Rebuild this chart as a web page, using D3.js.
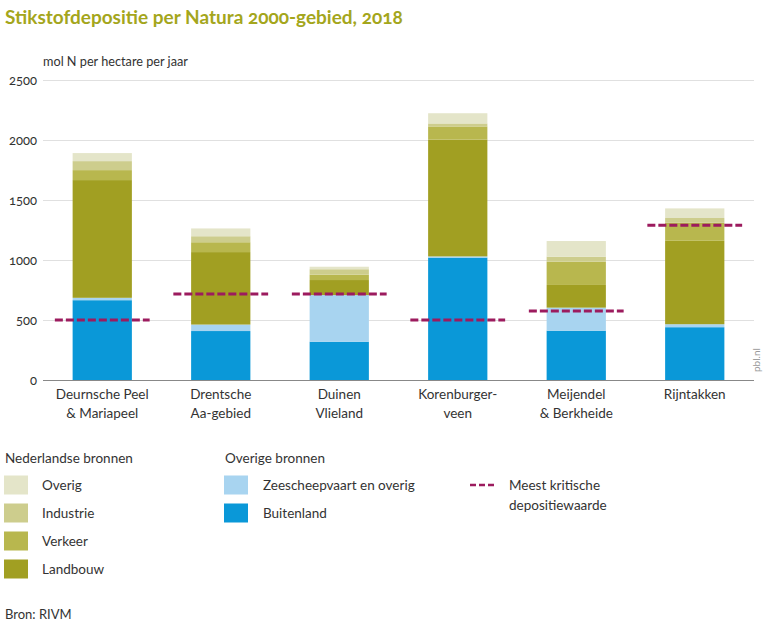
<!DOCTYPE html>
<html>
<head>
<meta charset="utf-8">
<script src="https://cdn.jsdelivr.net/npm/d3@7/dist/d3.min.js"></script>
<style>
  html, body { margin: 0; padding: 0; background: #fff; }
  svg text { font-family: Lato, "Open Sans", sans-serif; fill: #333; font-variant-numeric: oldstyle-nums; }
</style>
</head>
<body>
<svg id="chart" width="766" height="622"></svg>
<script>
// Natura 2000 areas (two-line labels)
const areas = [
  ["Deurnsche Peel", "& Mariapeel"],
  ["Drentsche", "Aa-gebied"],
  ["Duinen", "Vlieland"],
  ["Korenburger-", "veen"],
  ["Meijendel", "& Berkheide"],
  ["Rijntakken"]
];
const areaKeys = areas.map(a => a.join(" "));

// Deposition per source, mol N per hectare per year (stacked bottom to top)
const buitenland     = [665, 408, 319, 1020, 411, 440];
const zeescheepvaart = [ 20,  54, 389,   10, 192,  25];
const landbouw       = [981, 604, 125,  973, 189, 695];
const verkeer        = [ 83,  82,  45,  110, 194, 150];
const industrie      = [ 75,  50,  45,   25,  42,  40];
const overig         = [ 67,  65,  21,   85, 130,  80];

// Most critical deposition value per area
const kritisch = [500, 717, 717, 500, 575, 1290];

const yTicks = [0, 500, 1000, 1500, 2000, 2500];

const seriesKeys = ["buitenland", "zeescheepvaart", "landbouw", "verkeer", "industrie", "overig"];
const seriesData = { buitenland, zeescheepvaart, landbouw, verkeer, industrie, overig };
const colors = {
  overig: "#e4e5c9",
  industrie: "#cdcd8d",
  verkeer: "#b8b74e",
  landbouw: "#a19f22",
  zeescheepvaart: "#a8d4f0",
  buitenland: "#0a98d8"
};
const critColor = "#9c1b5e";

const rows = areaKeys.map((k, i) => {
  const r = { area: k };
  seriesKeys.forEach(s => r[s] = seriesData[s][i]);
  return r;
});

const svg = d3.select("#chart");

const x = d3.scaleBand().domain(areaKeys).range([43, 754]).paddingInner(0.5).paddingOuter(0.25);
const y = d3.scaleLinear().domain([0, 2500]).range([380, 80]);

// Title
svg.append("text").attr("x", 5).attr("y", 24)
  .style("font-size", "19px").style("font-weight", 700).style("fill", "#a4a61c")
  .text("Stikstofdepositie per Natura 2000-gebied, 2018");

svg.append("text").attr("x", 43).attr("y", 66)
  .style("font-size", "12.7px")
  .text("mol N per hectare per jaar");

// Grid lines and y labels
const yAxis = d3.axisLeft(y).tickValues(yTicks).tickFormat(d3.format("d"))
  .tickSize(-(754 - 43)).tickPadding(6);
const gy = svg.append("g").attr("transform", "translate(43,0)").call(yAxis);
gy.select(".domain").remove();
gy.selectAll(".tick line").attr("stroke", d => d === 0 ? "#888" : "#e0e0e0").attr("stroke-width", 1);
gy.selectAll(".tick text").style("font-size", "13px").style("fill", "#333").attr("x", -6);

// Stacked bars
const stack = d3.stack().keys(seriesKeys)(rows);
svg.append("g").selectAll("g").data(stack).join("g")
  .attr("fill", d => colors[d.key])
  .selectAll("rect").data(d => d).join("rect")
  .attr("x", d => x(d.data.area))
  .attr("width", x.bandwidth())
  .attr("y", d => y(d[1]))
  .attr("height", d => y(d[0]) - y(d[1]));

// Critical deposition lines, a little wider than the bars
const ext = x.bandwidth() * 0.3;
svg.append("g").selectAll("line").data(areaKeys).join("line")
  .attr("x1", d => x(d) - ext)
  .attr("x2", d => x(d) + x.bandwidth() + ext)
  .attr("y1", (d, i) => y(kritisch[i]))
  .attr("y2", (d, i) => y(kritisch[i]))
  .attr("stroke", critColor).attr("stroke-width", 3)
  .attr("stroke-dasharray", "8,3");

// X labels
const xl = svg.append("g");
areas.forEach((lines, i) => {
  const cx = x(areaKeys[i]) + x.bandwidth() / 2;
  lines.forEach((t, j) => {
    xl.append("text").attr("x", cx).attr("y", 399 + j * 19)
      .attr("text-anchor", "middle").style("font-size", "13.5px").text(t);
  });
});

// Legend
const lg = svg.append("g");
lg.append("text").attr("x", 5).attr("y", 463).style("font-size", "13.5px").text("Nederlandse bronnen");
lg.append("text").attr("x", 225).attr("y", 463).style("font-size", "13.5px").text("Overige bronnen");

const nlItems = [["overig", "Overig"], ["industrie", "Industrie"], ["verkeer", "Verkeer"], ["landbouw", "Landbouw"]];
nlItems.forEach(([k, label], i) => {
  const cy = 485 + i * 28;
  lg.append("rect").attr("x", 4).attr("y", cy - 9.5).attr("width", 24).attr("height", 19).attr("fill", colors[k]);
  lg.append("text").attr("x", 42).attr("y", cy + 5).style("font-size", "13.5px").text(label);
});
const otherItems = [["zeescheepvaart", "Zeescheepvaart en overig"], ["buitenland", "Buitenland"]];
otherItems.forEach(([k, label], i) => {
  const cy = 485 + i * 28;
  lg.append("rect").attr("x", 224).attr("y", cy - 9.5).attr("width", 24).attr("height", 19).attr("fill", colors[k]);
  lg.append("text").attr("x", 263).attr("y", cy + 5).style("font-size", "13.5px").text(label);
});
lg.append("line").attr("x1", 470).attr("x2", 495).attr("y1", 485).attr("y2", 485)
  .attr("stroke", critColor).attr("stroke-width", 2.5).attr("stroke-dasharray", "6,3");
lg.append("text").attr("x", 509).attr("y", 490).style("font-size", "13.5px").text("Meest kritische");
lg.append("text").attr("x", 509).attr("y", 510).style("font-size", "13.5px").text("depositiewaarde");

// Source
svg.append("text").attr("x", 5).attr("y", 619).style("font-size", "13px").text("Bron: RIVM");

// Vertical credit at the right edge
svg.append("text").attr("transform", "translate(760,372) rotate(-90)")
  .style("font-size", "10px").style("fill", "#999").text("pbl.nl");
</script>
</body>
</html>
